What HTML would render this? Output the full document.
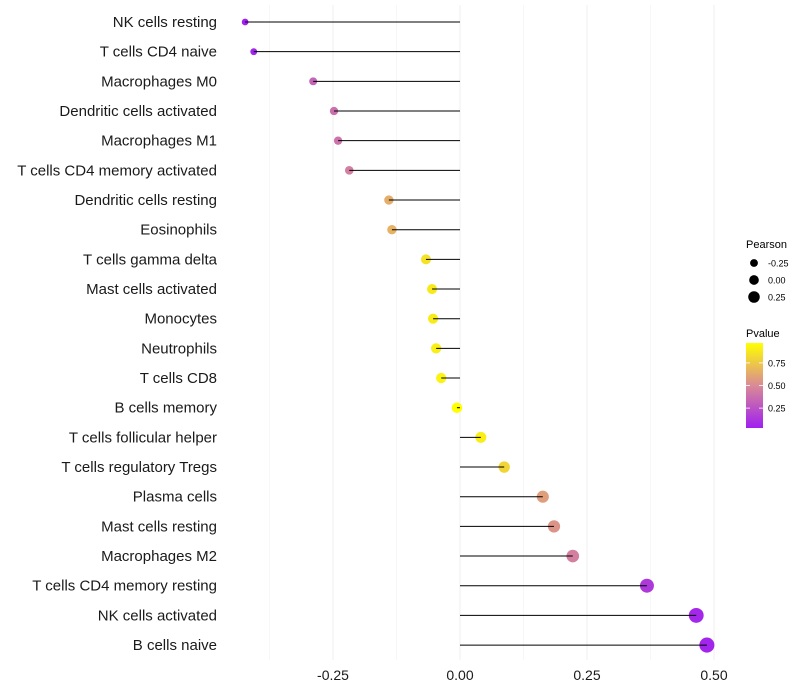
<!DOCTYPE html>
<html><head><meta charset="utf-8"><style>
body{margin:0;background:#fff;}
svg{display:block;font-family:"Liberation Sans",sans-serif;}
</style></head><body>
<svg id="chart" width="800" height="700"></svg>
<script>
const categories=["NK cells resting","T cells CD4 naive","Macrophages M0","Dendritic cells activated","Macrophages M1","T cells CD4 memory activated","Dendritic cells resting","Eosinophils","T cells gamma delta","Mast cells activated","Monocytes","Neutrophils","T cells CD8","B cells memory","T cells follicular helper","T cells regulatory  Tregs ","Plasma cells","Mast cells resting","Macrophages M2","T cells CD4 memory resting","NK cells activated","B cells naive"];
const pearson=[-0.423,-0.406,-0.289,-0.248,-0.240,-0.218,-0.140,-0.134,-0.067,-0.055,-0.053,-0.047,-0.037,-0.006,0.041,0.087,0.163,0.185,0.222,0.368,0.465,0.486];
const pvalues=[0.03,0.05,0.33,0.38,0.40,0.45,0.64,0.66,0.85,0.88,0.89,0.90,0.92,0.98,0.90,0.80,0.58,0.54,0.45,0.14,0.06,0.05];
const xTicks=[-0.25,0,0.25,0.5];
const xTickLabels=["-0.25","0.00","0.25","0.50"];
const legendSizes=[-0.25,0,0.25];
const legendSizeLabels=["-0.25","0.00","0.25"];
const pTicks=[0.25,0.5,0.75];
const pTickLabels=["0.25","0.50","0.75"];

const NS="http://www.w3.org/2000/svg";
const svg=document.getElementById('chart');
function mk(t,a,p){const e=document.createElementNS(NS,t);for(const k in a)e.setAttribute(k,a[k]);(p||svg).appendChild(e);return e;}
const x=v=>460+v*508;
const y=i=>22+i*29.67;
const r=v=>Math.max(1.8,5.3+4.6*v);
const pMin=0.03,pMax=0.97;
function col(p){let t=(p-pMin)/(pMax-pMin);t=Math.max(0,Math.min(1,t));
 const s=[[160,32,240],[217,138,150],[255,255,0]];let a,b,u;
 if(t<0.5){a=s[0];b=s[1];u=t/0.5}else{a=s[1];b=s[2];u=(t-0.5)/0.5}
 return `rgb(${a.map((c,k)=>Math.round(c+(b[k]-c)*u)).join(',')})`;}
const gridVals=[-0.375,-0.25,-0.125,0,0.125,0.25,0.375,0.5];
gridVals.forEach(v=>{const l=mk('line',{x1:x(v),x2:x(v),y1:5,y2:660,stroke:Number.isInteger(v/0.25)?'#efefef':'#f7f7f7','stroke-width':1});
});
categories.forEach((c,i)=>{
 const t=mk('text',{x:217,y:y(i)+5,'text-anchor':'end','font-size':15,fill:'#1a1a1a'});t.textContent=c;
 
 const d=mk('circle',{cx:x(pearson[i]),cy:y(i),r:r(pearson[i]),fill:col(pvalues[i])});
 
 const l=mk('line',{x1:x(0),x2:x(pearson[i]),y1:y(i),y2:y(i),stroke:'#000','stroke-width':1});
 
});
xTicks.forEach((v,i)=>{const t=mk('text',{x:x(v),y:680,'text-anchor':'middle','font-size':14,fill:'#1a1a1a'});t.textContent=xTickLabels[i];
});
let t=mk('text',{x:746,y:248,'font-size':11,fill:'#000'});t.textContent='Pearson';

legendSizes.forEach((v,i)=>{const yy=263+i*17;
 const c=mk('circle',{cx:754,cy:yy,r:r(v)*0.8+0.6,fill:'#000'});
 const tt=mk('text',{x:768,y:yy+3.5,'font-size':9,fill:'#000'});tt.textContent=legendSizeLabels[i];
 });
t=mk('text',{x:746,y:337,'font-size':11,fill:'#000'});t.textContent='Pvalue';

const defs=mk('defs',{});const g=mk('linearGradient',{id:'pg',x1:0,y1:1,x2:0,y2:0},defs);
for(let k=0;k<=10;k++){mk('stop',{offset:k/10,'stop-color':col(pMin+(pMax-pMin)*k/10)},g);}
const bar=mk('rect',{x:746,y:343,width:17,height:85,fill:'url(#pg)'});

const py=p=>428-(p-pMin)/(pMax-pMin)*85;
pTicks.forEach((p,i)=>{
 mk('line',{x1:746,x2:750,y1:py(p),y2:py(p),stroke:'#fff','stroke-width':0.8});
 mk('line',{x1:759,x2:763,y1:py(p),y2:py(p),stroke:'#fff','stroke-width':0.8});
 const tt=mk('text',{x:768,y:py(p)+3.5,'font-size':9,fill:'#000'});tt.textContent=pTickLabels[i];
 });
</script>
</body></html>
